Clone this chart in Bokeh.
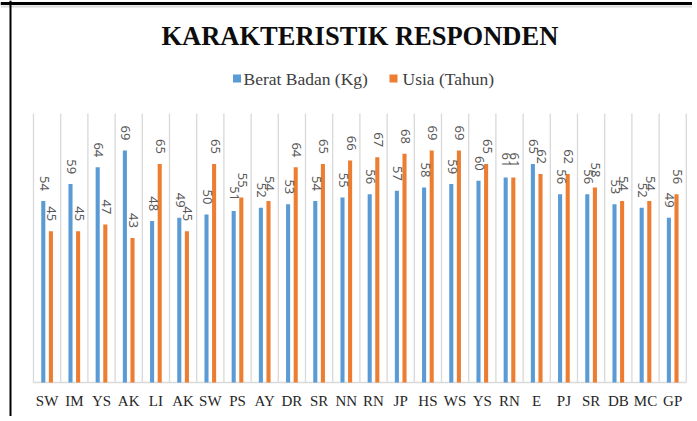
import numpy as np
from bokeh.plotting import figure
from bokeh.models import ColumnDataSource, Range1d, Span
from bokeh.core.properties import value
from bokeh.transform import dodge
from bokeh.embed import file_html
from bokeh.resources import INLINE

# ---- data ----
categories = ["SW", "IM", "YS", "AK", "LI", "AK", "SW", "PS", "AY", "DR", "SR", "NN",
              "RN", "JP", "HS", "WS", "YS", "RN", "E", "PJ", "SR", "DB", "MC", "GP"]
berat_badan = [54, 59, 64, 69, 48, 49, 50, 51, 52, 53, 54, 55,
               56, 57, 58, 59, 60, 61, 65, 56, 56, 53, 52, 49]
usia = [45, 45, 47, 43, 65, 45, 65, 55, 54, 64, 65, 66,
        67, 68, 69, 69, 65, 61, 62, 62, 58, 54, 54, 56]
series_names = ["Berat Badan (Kg)", "Usia (Tahun)"]
series_colors = ["#5B9BD5", "#ED7D31"]
title_text = "KARAKTERISTIK RESPONDEN"
y_max = 80

BLUE, ORANGE = series_colors

n = len(categories)
pos = np.arange(n) + 0.5
src = ColumnDataSource(dict(x=pos, cat=categories, bb=berat_badan, us=usia,
                            bb_s=[str(v) for v in berat_badan],
                            us_s=[str(v) for v in usia],
                            ty=[0] * n))

W, H = 692, 416
# pixel geometry of the plot area (page coordinates)
px_left, px_cat, px_base, px_unit = 33.0, 27.2, 382.0, 3.3625


def dx(px):
    return (px - px_left) / px_cat


def dy(py):
    return (px_base - py) / px_unit


p = figure(width=W, height=H, output_backend="svg", toolbar_location=None,
           x_range=Range1d(dx(0), dx(W)), y_range=Range1d(dy(H), dy(0)),
           x_axis_location=None, y_axis_location=None, min_border=0)
p.outline_line_color = None
p.background_fill_color = "white"
p.border_fill_color = "white"
p.xgrid.visible = False
p.ygrid.visible = False

# vertical category gridlines
edges = np.arange(n + 1)
p.segment(x0=edges, x1=edges, y0=[0] * (n + 1), y1=[y_max] * (n + 1),
          line_color="#D9D9D9", line_width=1.3)
# baseline
p.segment(x0=[0], x1=[n], y0=[0], y1=[0], line_color="#D9D9D9", line_width=1.3)

off = 0.14
bw = 0.15
p.vbar(x=dodge("x", -off), top="bb", width=bw, source=src, color=BLUE, line_color=None)
p.vbar(x=dodge("x", off), top="us", width=bw, source=src, color=ORANGE, line_color=None)

lbl = dict(angle=-np.pi / 2, text_align="right", text_baseline="middle",
           text_font=value("Noto Sans"), text_font_size="13px", text_color="#595959",
           y_offset=-10, x_offset=1)
p.text(x=dodge("x", -off), y="bb", text="bb_s", source=src, **lbl)
p.text(x=dodge("x", off), y="us", text="us_s", source=src, **lbl)

# category labels
p.text(x="x", y="ty", text="cat", source=src, y_offset=18,
       text_align="center", text_baseline="middle",
       text_font=value("Liberation Serif"), text_font_size="15px", text_color="#262626")

# title
p.text(x=[n / 2], y=[dy(35)], text=[title_text],
       text_align="center", text_baseline="middle",
       text_font=value("Liberation Serif"), text_font_style="bold",
       text_font_size="26.5px", text_color="#0D0D0D")

# legend (drawn directly so the serif font is kept)
leg_sq_x = [dx(236.5), dx(393)]
leg_tx_x = [dx(243), dx(402)]
p.rect(x=leg_sq_x, y=[dy(78)] * 2, width=8, height=8, width_units="screen",
       height_units="screen", fill_color=series_colors, line_color=None)
p.text(x=leg_tx_x, y=[dy(78)] * 2, text=series_names, text_align="left",
       text_baseline="middle", text_font=value("Liberation Serif"),
       text_font_size="17.5px", text_color="#404040")

# frame lines of the original document crop
p.add_layout(Span(location=dy(3), dimension="width", line_color="black", line_width=3))
p.add_layout(Span(location=dy(6), dimension="width", line_color="#D9D9D9", line_width=2))
p.add_layout(Span(location=dx(10), dimension="height", line_color="black", line_width=2))

open("out.html", "w").write(file_html(p, INLINE))
